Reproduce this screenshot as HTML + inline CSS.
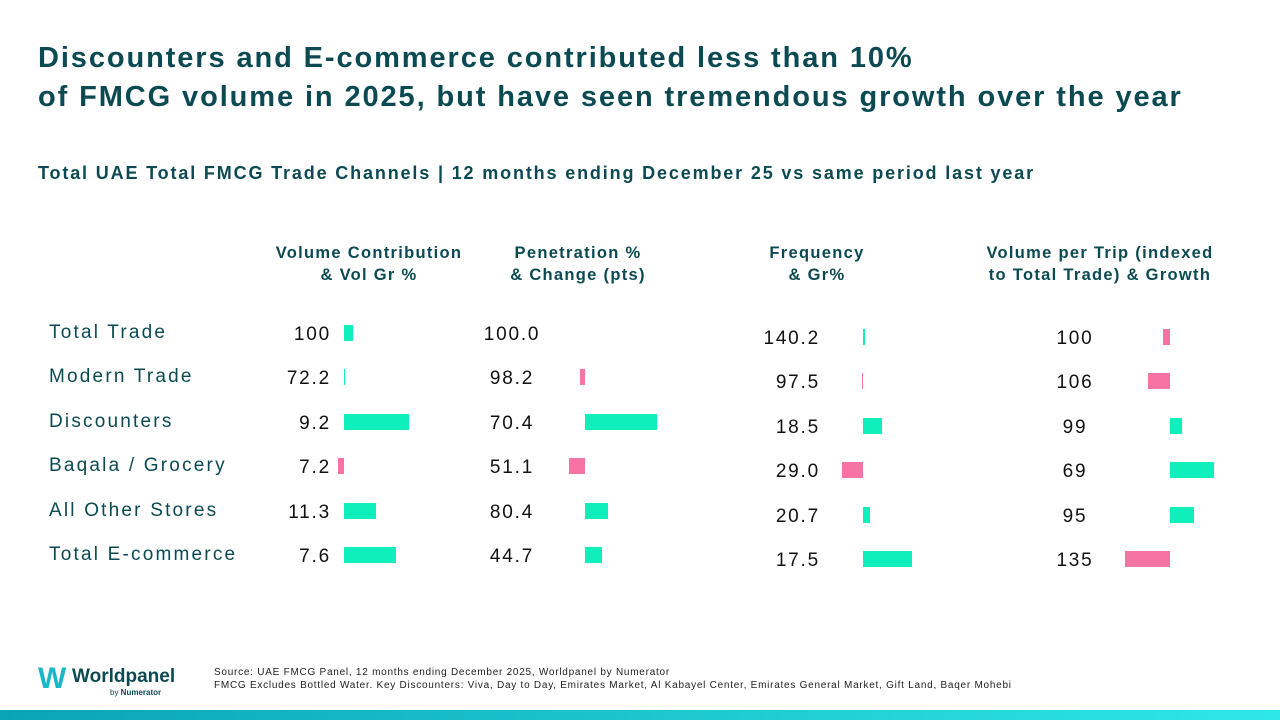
<!DOCTYPE html>
<html><head><meta charset="utf-8"><style>
body{margin:0;width:1280px;height:720px;background:#fff;position:relative;overflow:hidden;font-family:"Liberation Sans",sans-serif;color:#0b4a52}
.t{position:absolute;white-space:nowrap}
h1{position:absolute;left:38px;top:39px;margin:0;font-size:29px;line-height:39px;font-weight:bold;color:#0b4a52;letter-spacing:1.9px}
.sub{left:38px;top:163px;font-size:18px;font-weight:bold;letter-spacing:1.85px}
.hd{font-size:16.5px;font-weight:bold;text-align:center;line-height:22px;letter-spacing:1.3px}
</style></head><body>
<h1>Discounters and E-commerce contributed less than 10%<br>of FMCG volume in 2025, but have seen tremendous growth over the year</h1>
<div class="t sub">Total UAE Total FMCG Trade Channels | 12 months ending December 25 vs same period last year</div>
<div class="t hd" style="left:249px;top:242px;width:240px">Volume Contribution<br>&amp; Vol Gr %</div>
<div class="t hd" style="left:458px;top:242px;width:240px">Penetration %<br>&amp; Change (pts)</div>
<div class="t hd" style="left:732px;top:242px;width:170px">Frequency<br>&amp; Gr%</div>
<div class="t hd" style="left:950px;top:242px;width:300px">Volume per Trip (indexed<br>to Total Trade) &amp; Growth</div>
<div id="chart"></div>
<div class="t" style="left:38px;top:662px;font-size:30px;font-weight:bold;color:#19b8c8">W</div>
<div class="t" style="left:72px;top:666px;font-size:19px;font-weight:bold;color:#0b4a52">Worldpanel</div>
<div class="t" style="left:110px;top:688px;font-size:8px;color:#0b4a52">by <b>Numerator</b></div>
<div class="t" style="left:214px;top:666px;font-size:10px;color:#222;line-height:13px;letter-spacing:0.75px">Source: UAE FMCG Panel, 12 months ending December 2025, Worldpanel by Numerator<br>FMCG Excludes Bottled Water. Key Discounters: Viva, Day to Day, Emirates Market, Al Kabayel Center, Emirates General Market, Gift Land, Baqer Mohebi</div>
<div style="position:absolute;left:0;top:710px;width:1280px;height:10px;background:linear-gradient(90deg,#0aa4b6,#2ee8e6)"></div>
<script>
const channels=["Total Trade","Modern Trade","Discounters","Baqala / Grocery","All Other Stores","Total E-commerce"];
const volLabels=["100","72.2","9.2","7.2","11.3","7.6"];
const volGrowth=[4.5,0.5,32.5,-3,16,26];
const penLabels=["100.0","98.2","70.4","51.1","80.4","44.7"];
const penChange=[0,-1.2,18,-4,5.8,4.2];
const freqLabels=["140.2","97.5","18.5","29.0","20.7","17.5"];
const freqGrowth=[2,-1,19,-21,7,49];
const vptLabels=["100","106","99","69","95","135"];
const vptGrowth=[-7,-22,12,44,24,-45];
const C=document.getElementById('chart');
function div(css,name,txt){const d=document.createElement('div');d.style.cssText=css;


if(txt!=null)d.textContent=txt;C.appendChild(d);return d;}
function bar(x0,scale,val,yc,name){const w=Math.abs(val*scale);const x=val>=0?x0:x0-w;
div(`position:absolute;left:${x}px;top:${yc-8}px;width:${Math.max(w,1)}px;height:16px;background:${val>=0?'#0eefbb':'#f674a3'}`,name);}
const cols=[
{labels:volLabels,vals:volGrowth,x0:344,scale:2,y0:333,tx:331,align:'right',n:'vol'},
{labels:penLabels,vals:penChange,x0:585,scale:4,y0:333,tx:512,align:'center',n:'pen'},
{labels:freqLabels,vals:freqGrowth,x0:863,scale:1,y0:337,tx:820,align:'right',n:'freq'},
{labels:vptLabels,vals:vptGrowth,x0:1170,scale:1,y0:337,tx:1075,align:'center',n:'vpt'}];
channels.forEach((c,i)=>{
div(`position:absolute;left:49px;top:${322+i*44.4}px;font-size:19px;letter-spacing:2.2px;white-space:nowrap;color:#0b4a52`,'row-label-'+i,c);
cols.forEach(col=>{const yc=col.y0+i*44.4;
const css=col.align==='right'?`right:${1280-col.tx}px`:`left:${col.tx-50}px;width:100px;text-align:center`;
div(`position:absolute;${css};top:${yc-9}px;font-size:19px;letter-spacing:1.8px;color:#111;white-space:nowrap`,col.n+'-value-'+i,col.labels[i]);
if(col.vals[i]!==0)bar(col.x0,col.scale,col.vals[i],yc,col.n+'-bar-'+i);});});
</script>
</body></html>
